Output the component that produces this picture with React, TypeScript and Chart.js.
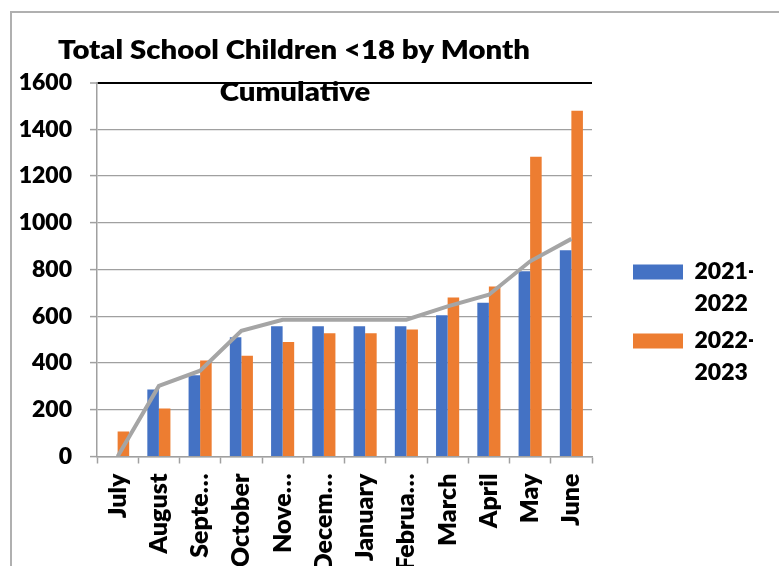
import React, { useEffect, useRef } from 'react';
import { Chart, registerables } from 'chart.js';

Chart.register(...registerables);

const months = ['July', 'August', 'Septe…', 'October', 'Nove…', 'Decem…', 'January', 'Februa…', 'March', 'April', 'May', 'June'];
const series2122 = [0, 287, 348, 510, 557, 557, 557, 557, 604, 658, 792, 882];
const series2223 = [107, 205, 411, 431, 490, 527, 527, 543, 680, 727, 1282, 1479];
const cumulativeLine = [0, 302, 367, 538, 585, 585, 585, 585, 642, 692, 835, 931];
const seriesLabels = ['2021-2022', '2022-2023', 'Cumulative'];
const legendLines = [['2021-', '2022'], ['2022-', '2023']];
const yTicks = [0, 200, 400, 600, 800, 1000, 1200, 1400, 1600];
const titleLines = ['Total School Children <18 by Month', 'Cumulative'];

const FONT = 'Lato';
const WEIGHT = 800;
const GRID = '#a0a0a0';

const titlePlugin = {
  id: 'excelTitle',
  afterDraw(chart: any) {
    const ctx = chart.ctx;
    ctx.save();
    ctx.fillStyle = '#000';
    ctx.font = `${WEIGHT} 26px ${FONT}`;
    ctx.textAlign = 'center';
    ctx.textBaseline = 'alphabetic';
    const w = ctx.measureText(titleLines[0]).width;
    const sx = 472 / w;
    ctx.translate(294, 0);
    ctx.scale(sx, 1);
    ctx.fillText(titleLines[0], 0, 59);
    ctx.fillText(titleLines[1], 1 / sx, 101);
    ctx.restore();
  },
};

export default function App() {
  const ref = useRef<HTMLCanvasElement | null>(null);

  useEffect(() => {
    if (!ref.current) return;
    const chart = new Chart(ref.current, {
      type: 'bar',
      data: {
        labels: months,
        datasets: [
          {
            type: 'bar',
            label: seriesLabels[0],
            data: series2122,
            backgroundColor: '#4472C4',
            borderWidth: 0,
            order: 1,
            categoryPercentage: 0.56,
            barPercentage: 1.0,
          },
          {
            type: 'bar',
            label: seriesLabels[1],
            data: series2223,
            backgroundColor: '#ED7D31',
            borderWidth: 0,
            order: 1,
            categoryPercentage: 0.56,
            barPercentage: 1.0,
          },
          {
            type: 'line',
            label: seriesLabels[2],
            data: cumulativeLine,
            borderColor: '#A5A5A5',
            backgroundColor: '#A5A5A5',
            borderWidth: 4,
            pointRadius: 0,
            tension: 0,
            order: 0,
          } as any,
        ],
      },
      options: {
        responsive: false,
        animation: false,
        devicePixelRatio: 1,
        layout: { padding: { left: 0, top: 82.5, right: 26, bottom: 0 } },
        plugins: {
          title: { display: false },
          tooltip: { enabled: false },
          legend: {
            display: true,
            position: 'right',
            align: 'start',
            maxWidth: 125,
            title: {
              display: true,
              text: ' ',
              font: { size: 10, lineHeight: 1 },
              padding: { top: 0, bottom: 163 },
            },
            labels: {
              boxWidth: 50,
              boxHeight: 15,
              padding: 5,
              color: '#000',
              font: { family: FONT, size: 23, weight: WEIGHT, lineHeight: 32 / 23 },
              filter: (item: any) => item.datasetIndex < 2,
              generateLabels: (chart: any) => {
                const items = Chart.defaults.plugins.legend.labels.generateLabels(chart);
                return items.map((it: any) => ({
                  ...it,
                  text: it.datasetIndex < 2 ? legendLines[it.datasetIndex] : it.text,
                  lineWidth: 0,
                  strokeStyle: 'rgba(0,0,0,0)',
                }));
              },
            },
          },
        },
        scales: {
          x: {
            offset: true,
            grid: {
              offset: true,
              display: true,
              drawOnChartArea: true,
              drawTicks: true,
              tickLength: 7,
              color: (c: any) => (c.index === months.length ? '#000' : 'rgba(0,0,0,0)'),
              lineWidth: (c: any) => (c.index === months.length ? 2 : 1),
              tickColor: GRID,
              tickWidth: 1.5,
            },
            border: { display: true, color: GRID, width: 1.5 },
            ticks: {
              autoSkip: false,
              minRotation: 90,
              maxRotation: 90,
              padding: 10,
              color: '#000',
              font: { family: FONT, size: 25, weight: WEIGHT },
            },
            afterFit: (s: any) => {
              s.height = 109.5;
            },
          },
          y: {
            min: 0,
            max: 1600,
            afterBuildTicks: (s: any) => {
              s.ticks = yTicks.map((v) => ({ value: v }));
            },
            grid: {
              drawTicks: true,
              tickLength: 7,
              color: (c: any) => (c.tick && c.tick.value === 1600 ? '#000' : GRID),
              lineWidth: (c: any) => (c.tick && c.tick.value === 1600 ? 2 : 1.2),
              tickColor: GRID,
              tickWidth: 1.5,
            },
            border: { display: true, color: GRID, width: 1.5 },
            ticks: {
              padding: 18,
              color: '#000',
              font: { family: FONT, size: 23, weight: WEIGHT },
              callback: (v: any) => String(v),
            },
            afterFit: (s: any) => {
              s.width = 97;
            },
          },
          spacer: {
            type: 'linear',
            position: 'right',
            display: true,
            grid: { display: false, drawTicks: false },
            border: { display: false },
            ticks: { display: false },
            afterFit: (s: any) => {
              s.width = 36;
            },
          },
        },
      } as any,
      plugins: [titlePlugin],
    });
    return () => chart.destroy();
  }, []);

  return (
    <div style={{ position: 'fixed', left: 0, top: 0, width: 779, height: 566, overflow: 'hidden', background: '#fff' }}>
      <div
        style={{
          position: 'absolute',
          left: 10,
          top: 11,
          width: 900,
          height: 700,
          borderLeft: '2px solid #b0b0b0',
          borderTop: '2px solid #b0b0b0',
        }}
      />
      <canvas ref={ref} width={779} height={566} style={{ position: 'absolute', left: 0, top: 0, width: 779, height: 566 }} />
    </div>
  );
}
